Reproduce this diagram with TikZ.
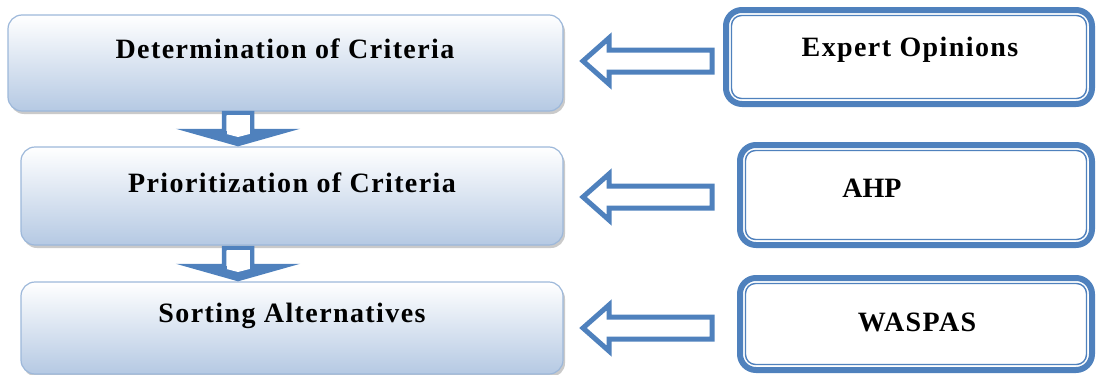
\documentclass[tikz,border=0pt]{standalone}
\usepackage{fontspec}
\setmainfont{Liberation Serif}
\usetikzlibrary{calc,shadows}
\definecolor{bblue}{HTML}{4F81BD}
\definecolor{lboxbot}{HTML}{B5C9E3}
\definecolor{lboxedge}{HTML}{9DB8DA}
\tikzset{
  lbox/.style={rectangle, rounded corners=14, draw=lboxedge, line width=1.2, outer sep=0,
    top color=white, bottom color=lboxbot, shading angle=0,
    drop shadow={shadow xshift=2pt, shadow yshift=-3pt, opacity=0.35, fill=black!60}},
  rbox/.style={rectangle, rounded corners=16, draw=bblue, line width=6, fill=white, outer sep=0},
  rinner/.style={draw=bblue, line width=1.4, rounded corners=10},
  txt/.style={font=\fontsize{28}{32}\selectfont\bfseries\addfontfeature{LetterSpace=5}, inner sep=0},
  txtn/.style={font=\fontsize{28}{32}\selectfont\bfseries, inner sep=0},
  blk/.style={draw=bblue, line width=5, fill=white, line join=miter},
}
\begin{document}
\begin{tikzpicture}[x=1pt,y=-1pt]
\useasboundingbox (0,0) rectangle (1096,375);
% left boxes
\node[lbox, anchor=north west, minimum width=555, minimum height=96] (d1) at (8,15) {};
\node[lbox, anchor=north west, minimum width=542, minimum height=98] (d2) at (21,147) {};
\node[lbox, anchor=north west, minimum width=542, minimum height=92] (d3) at (21,282) {};
\node[txt] (d1t) at (285,49) {Determination of Criteria};
\node[txt] (d2t) at (292,183) {Prioritization of Criteria};
\node[txt] (d3t) at (292,316) {Sorting Alternatives};
% right boxes
\node[rbox, anchor=north west, minimum width=366, minimum height=94] (e1) at (726,10) {};
\node[rbox, anchor=north west, minimum width=352, minimum height=100] (e2) at (740,145) {};
\node[rbox, anchor=north west, minimum width=352, minimum height=92] (e3) at (740,278) {};
\draw[rinner] ($(e1.north west)+(5.5,5.5)$) rectangle ($(e1.south east)+(-5.5,-5.5)$);
\draw[rinner] ($(e2.north west)+(5.5,5.5)$) rectangle ($(e2.south east)+(-5.5,-5.5)$);
\draw[rinner] ($(e3.north west)+(5.5,5.5)$) rectangle ($(e3.south east)+(-5.5,-5.5)$);
\node[txt] (e1t) at (910,50) {Expert Opinions};
\node[txtn] (e2t) at (872,188) {AHP};
\node[txt] (e3t) at (917,322) {WASPAS};
% left-pointing block arrows (from right box towards left box)
\coordinate (tip1) at ($(d1.east)+(20,-2)$);
\coordinate (tip2) at ($(d2.east)+(20,1)$);
\coordinate (tip3) at ($(d3.east)+(20,0)$);
\foreach \r in {1,2,3}{
  \draw[blk] (tip\r) -- ++(26,-23) -- ++(0,12) -- ($(tip\r)+(129,-11)$) -- ++(0,22)
    -- ($(tip\r)+(26,11)$) -- ++(0,12) -- cycle;
}
% down block arrows
\coordinate (a1) at ($(d1.south)+(-47.5,2)$);
\coordinate (a2) at ($(d2.south)+(-54,3)$);
\foreach \r in {1,2}{
  \draw[blk, line width=4.5] (a\r) ++(-14,0) -- ++(0,18) -- ++(-32,0) -- ++(46,13)
    -- ++(46,-13) -- ++(-32,0) -- ++(0,-18) -- cycle;
  \fill[bblue] (a\r) ++(-46,18) -- ++(46,13) -- ++(46,-13) -- cycle;
  \fill[white] (a\r) ++(-11.5,2) rectangle ++(23,19);
  \fill[white] (a\r) ++(-11.5,21) -- ++(11.5,3) -- ++(11.5,-3) -- cycle;
}
\end{tikzpicture}
\end{document}
